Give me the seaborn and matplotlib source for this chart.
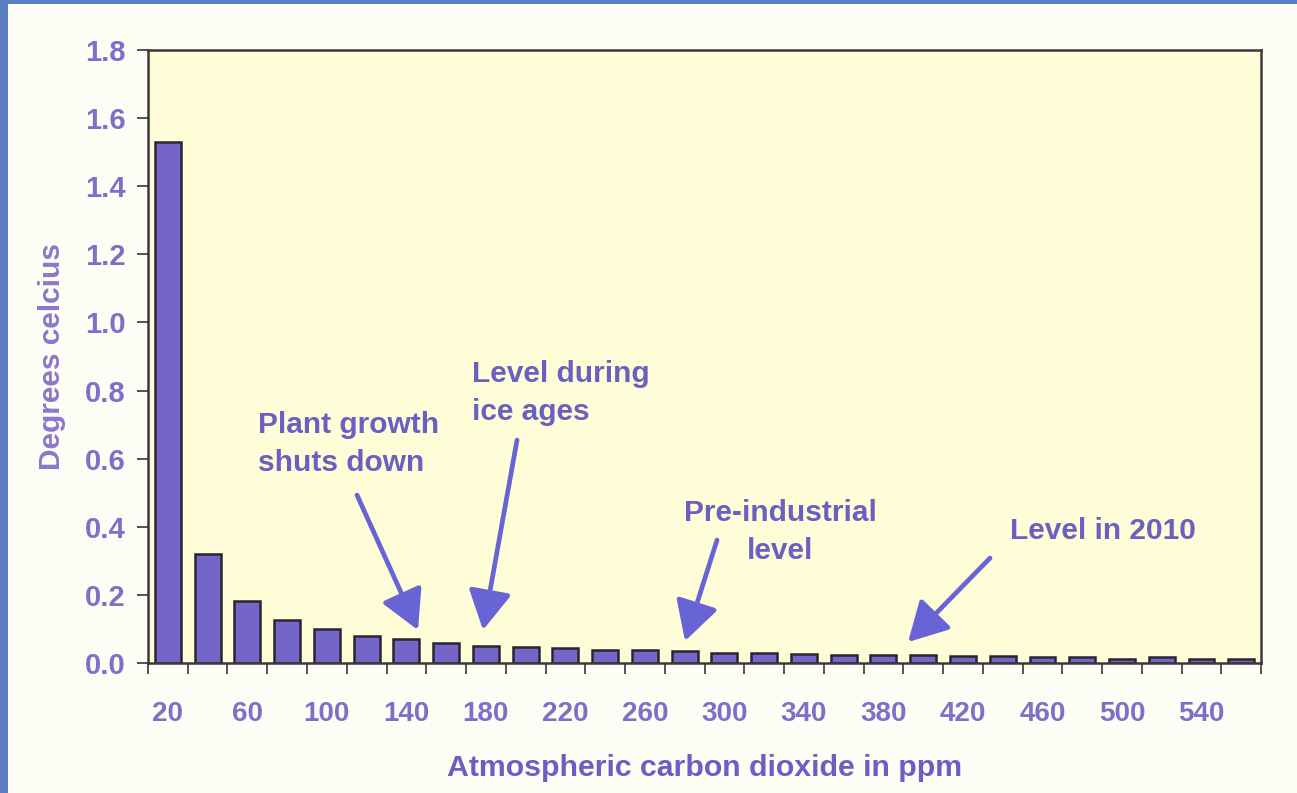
import matplotlib
matplotlib.use("Agg")
import matplotlib.pyplot as plt
import seaborn as sns
import pandas as pd
from matplotlib.patches import Rectangle

# ---- data ----
co2_ppm = [20, 40, 60, 80, 100, 120, 140, 160, 180, 200, 220, 240, 260, 280,
           300, 320, 340, 360, 380, 400, 420, 440, 460, 480, 500, 520, 540, 560]
degrees = [1.53, 0.32, 0.182, 0.126, 0.100, 0.079, 0.070, 0.060, 0.050, 0.047,
           0.044, 0.038, 0.037, 0.035, 0.030, 0.029, 0.026, 0.023, 0.023, 0.024,
           0.022, 0.022, 0.017, 0.019, 0.012, 0.017, 0.012, 0.011]
tick_labels = ["20", "60", "100", "140", "180", "220", "260", "300", "340",
               "380", "420", "460", "500", "540"]
y_ticks = [0.0, 0.2, 0.4, 0.6, 0.8, 1.0, 1.2, 1.4, 1.6, 1.8]

notes = ["Plant growth\nshuts down", "Level during\nice ages",
         "Pre-industrial\nlevel", "Level in 2010"]

sns.set_theme(style="white")
plt.rcParams["font.family"] = ["Liberation Sans", "DejaVu Sans"]

TICK_C = "#7f6fc9"
TEXT_C = "#6a5fc2"
ARROW_C = "#6964d6"

fig = plt.figure(figsize=(12.97, 7.93), dpi=100, facecolor="#fdfdf6")
ax = fig.add_axes([0.1141, 0.1639, 0.8582, 0.7730])
ax.set_facecolor("#fefdd8")

df = pd.DataFrame({"ppm": [str(v) for v in co2_ppm], "deg": degrees})
sns.barplot(data=df, x="ppm", y="deg", ax=ax, color="#7466c9", width=0.65,
            edgecolor="#2b2430", linewidth=1.8, saturation=1)

n = len(co2_ppm)
ax.set_xlim(-0.5, n - 0.5)
ax.set_ylim(0, 1.8)

# x: labels at every other category, tick marks at category boundaries
label_pos = [co2_ppm.index(int(t)) for t in tick_labels]
ax.set_xticks(label_pos)
ax.set_xticklabels(tick_labels)
ax.set_xticks([i - 0.5 for i in range(n + 1)], minor=True)
ax.tick_params(axis="x", which="major", length=0, pad=27, labelsize=20,
               labelcolor=TICK_C)
ax.tick_params(axis="x", which="minor", length=8, width=1.3, color="#444444",
               direction="out", bottom=True)
for t in ax.get_xticklabels():
    t.set_fontweight("bold")

ax.set_yticks(y_ticks)
ax.set_yticklabels([f"{v:.1f}" for v in y_ticks])
ax.tick_params(axis="y", which="major", length=8, width=1.3, color="#444444",
               direction="out", left=True, pad=8, labelsize=21,
               labelcolor=TICK_C)
for t in ax.get_yticklabels():
    t.set_fontweight("bold")

for s in ax.spines.values():
    s.set_visible(True)
    s.set_color("#3a3a3a")
    s.set_linewidth(1.8)

ax.set_xlabel("Atmospheric carbon dioxide in ppm", fontsize=21.8,
              fontweight="bold", color=TEXT_C, labelpad=20)
ax.set_ylabel("Degrees celcius", fontsize=21.5, fontweight="bold",
              color="#8a78cc", labelpad=14)

def px2data(px, py):
    return ((px - 148) / 39.75 - 0.5, (663 - py) / 340.6)

text_px = [(258, 444, "left"), (472, 393, "left"), (780, 532, "center"),
           (1103, 531, "center")]
tail_px = [(357, 495), (517, 440), (717, 540), (990, 558)]
head_px = [(418, 630), (483, 630), (685, 641), (908, 642)]

for txt, (tx, ty, ha), tail, head in zip(notes, text_px, tail_px, head_px):
    x, y = px2data(tx, ty)
    ax.text(x, y, txt, ha=ha, va="center", fontsize=21.5, fontweight="bold",
            color=TEXT_C, linespacing=1.45)
    ax.annotate("", xy=px2data(*head), xytext=px2data(*tail),
                arrowprops=dict(arrowstyle="-|>,head_length=1.0,head_width=0.55",
                                color=ARROW_C, lw=3.4, mutation_scale=24,
                                shrinkA=0, shrinkB=0))

# slide frame (blue strips on left and top)
fig.patches.append(Rectangle((0, 0), 8 / 1297, 1, transform=fig.transFigure,
                             facecolor="#5b80c2", edgecolor="none", zorder=5))
fig.patches.append(Rectangle((0, 1 - 4 / 793), 1, 4 / 793,
                             transform=fig.transFigure, facecolor="#5b80c2",
                             edgecolor="none", zorder=5))

fig.savefig("out.png", dpi=100, facecolor=fig.get_facecolor())
